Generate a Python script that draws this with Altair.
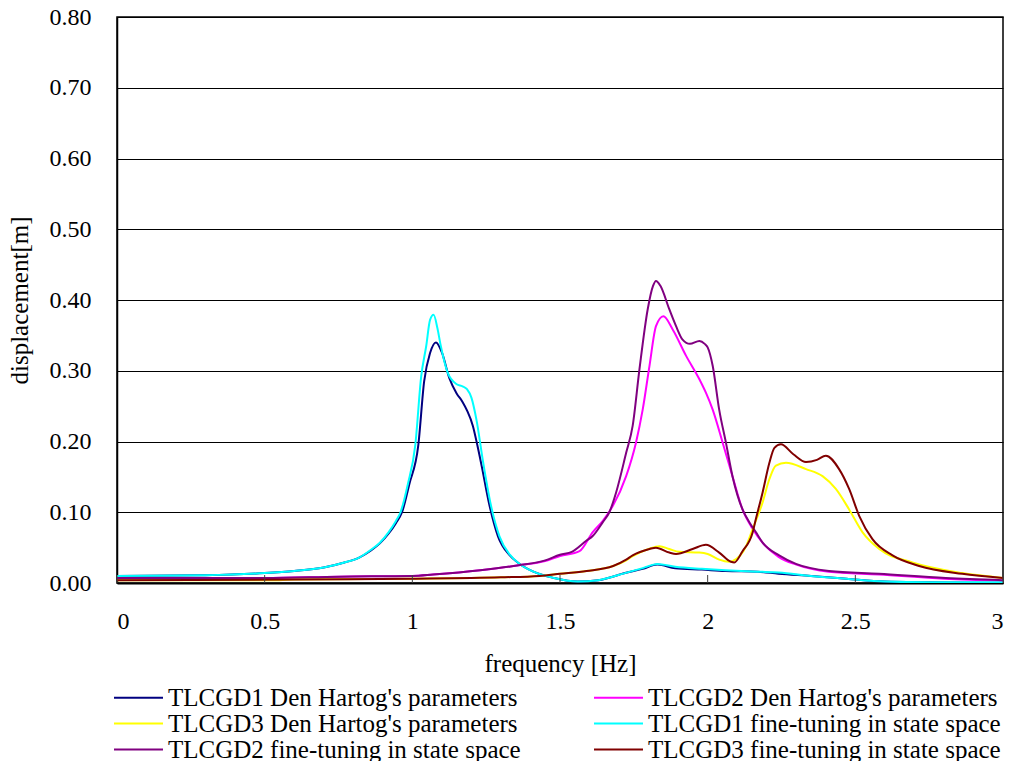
import altair as alt
import pandas as pd

# ---- data ----
names = [
    "TLCGD1 Den Hartog's parameters",
    "TLCGD2 Den Hartog's parameters",
    "TLCGD3 Den Hartog's parameters",
    "TLCGD1 fine-tuning in state space",
    "TLCGD2 fine-tuning in state space",
    "TLCGD3 fine-tuning in state space",
]
colors = ["#000080", "#FF00FF", "#FFFF00", "#00FFFF", "#800080", "#800000"]
# legend fills column by column: this order gives the reference's row layout
legend_order = [0, 2, 4, 1, 3, 5]

f_d1 = [0.00, 0.30, 0.50, 0.60, 0.70, 0.77, 0.82, 0.86, 0.89, 0.92, 0.945, 0.965, 0.99, 1.02, 1.04, 1.06,
        1.08, 1.10, 1.125, 1.15, 1.17, 1.185, 1.205, 1.22, 1.235, 1.26, 1.29, 1.33, 1.36, 1.41, 1.48, 1.56,
        1.63, 1.72, 1.78, 1.83, 1.89, 1.98, 2.06, 2.17, 2.24, 2.35, 2.47, 2.60, 2.75, 3.00]
v_d1 = [0.010, 0.011, 0.014, 0.017, 0.022, 0.029, 0.036, 0.046, 0.056, 0.070, 0.085, 0.100, 0.140, 0.194,
        0.285, 0.325, 0.340, 0.326, 0.290, 0.268, 0.256, 0.244, 0.222, 0.195, 0.165, 0.112, 0.066, 0.039,
        0.028, 0.016, 0.007, 0.002, 0.004, 0.014, 0.020, 0.026, 0.021, 0.019, 0.017, 0.016, 0.013, 0.010,
        0.006, 0.002, 0.001, 0.000]

f_d2 = [0.00, 0.50, 0.75, 1.00, 1.07, 1.23, 1.36, 1.45, 1.50, 1.566, 1.611, 1.645, 1.679, 1.724, 1.757,
        1.780, 1.803, 1.825, 1.850, 1.882, 1.927, 1.972, 1.994, 2.017, 2.051, 2.084, 2.118, 2.15, 2.19,
        2.24, 2.30, 2.41, 2.58, 2.80, 3.00]
v_d2 = [0.007, 0.007, 0.009, 0.010, 0.012, 0.018, 0.025, 0.031, 0.038, 0.045, 0.072, 0.088, 0.109, 0.151,
        0.198, 0.245, 0.307, 0.363, 0.377, 0.358, 0.321, 0.288, 0.269, 0.245, 0.198, 0.151, 0.104, 0.078,
        0.055, 0.037, 0.026, 0.016, 0.012, 0.006, 0.003]

f_d3 = [0.00, 0.55, 0.60, 1.00, 1.30, 1.43, 1.50, 1.59, 1.68, 1.724, 1.746, 1.80, 1.837, 1.87, 1.904,
        1.972, 2.00, 2.039, 2.073, 2.084, 2.130, 2.152, 2.186, 2.209, 2.231, 2.265, 2.333, 2.389, 2.434,
        2.479, 2.524, 2.581, 2.693, 2.862, 3.00]
v_d3 = [0.004, 0.004, 0.005, 0.006, 0.008, 0.010, 0.013, 0.017, 0.024, 0.032, 0.038, 0.048, 0.052, 0.048,
        0.044, 0.043, 0.041, 0.033, 0.030, 0.031, 0.052, 0.076, 0.114, 0.147, 0.166, 0.170, 0.161, 0.151,
        0.133, 0.104, 0.072, 0.048, 0.029, 0.014, 0.007]

f_f1 = [0.00, 0.30, 0.50, 0.60, 0.70, 0.77, 0.82, 0.86, 0.89, 0.92, 0.945, 0.96, 0.985, 1.01, 1.03, 1.047,
        1.06, 1.072, 1.085, 1.095, 1.12, 1.15, 1.17, 1.185, 1.20, 1.217, 1.24, 1.265, 1.295, 1.33, 1.36,
        1.41, 1.48, 1.56, 1.63, 1.72, 1.78, 1.83, 1.89, 1.98, 2.06, 2.17, 2.24, 2.35, 2.47, 2.60, 2.75, 3.00]
v_f1 = [0.010, 0.011, 0.014, 0.017, 0.022, 0.029, 0.036, 0.047, 0.057, 0.072, 0.088, 0.100, 0.140, 0.195,
        0.292, 0.335, 0.372, 0.379, 0.360, 0.338, 0.297, 0.281, 0.278, 0.274, 0.262, 0.231, 0.170, 0.112,
        0.066, 0.040, 0.028, 0.016, 0.007, 0.002, 0.004, 0.014, 0.021, 0.027, 0.023, 0.020, 0.018, 0.016,
        0.015, 0.010, 0.006, 0.002, 0.001, 0.001]

f_f2 = [0.00, 0.50, 0.75, 1.00, 1.07, 1.23, 1.36, 1.45, 1.50, 1.54, 1.59, 1.61, 1.645, 1.667, 1.69, 1.724,
        1.746, 1.769, 1.797, 1.815, 1.825, 1.84, 1.87, 1.893, 1.915, 1.94, 1.972, 1.99, 2.00, 2.017, 2.039,
        2.062, 2.084, 2.118, 2.141, 2.163, 2.186, 2.242, 2.299, 2.411, 2.58, 2.806, 3.00]
v_f2 = [0.007, 0.007, 0.009, 0.010, 0.012, 0.018, 0.025, 0.032, 0.040, 0.044, 0.060, 0.066, 0.086, 0.100,
        0.128, 0.184, 0.222, 0.302, 0.387, 0.420, 0.427, 0.420, 0.387, 0.363, 0.344, 0.338, 0.342, 0.338,
        0.333, 0.307, 0.245, 0.198, 0.151, 0.104, 0.086, 0.072, 0.057, 0.039, 0.027, 0.017, 0.013, 0.007,
        0.004]

f_f3 = [0.00, 0.60, 1.00, 1.30, 1.43, 1.50, 1.59, 1.68, 1.724, 1.746, 1.803, 1.825, 1.870, 1.893, 1.949,
        1.994, 2.039, 2.079, 2.09, 2.118, 2.152, 2.163, 2.186, 2.209, 2.226, 2.248, 2.29, 2.333, 2.37, 2.40,
        2.445, 2.479, 2.513, 2.558, 2.626, 2.716, 2.862, 3.00]
v_f3 = [0.004, 0.005, 0.006, 0.008, 0.010, 0.013, 0.017, 0.024, 0.033, 0.039, 0.048, 0.050, 0.043, 0.041,
        0.048, 0.054, 0.043, 0.030, 0.029, 0.045, 0.071, 0.090, 0.128, 0.170, 0.191, 0.196, 0.182, 0.171,
        0.174, 0.180, 0.161, 0.133, 0.095, 0.062, 0.039, 0.024, 0.013, 0.007]

x_ticks = [0, 0.5, 1, 1.5, 2, 2.5, 3]
y_ticks = [0.0, 0.1, 0.2, 0.3, 0.4, 0.5, 0.6, 0.7, 0.8]

series = [(f_d1, v_d1), (f_d2, v_d2), (f_d3, v_d3), (f_f1, v_f1), (f_f2, v_f2), (f_f3, v_f3)]
rows = []
for idx, (name, (fs, vs)) in enumerate(zip(names, series)):
    for i, (f, v) in enumerate(zip(fs, vs)):
        rows.append({"series": name, "i": i, "freq": f, "disp": v})
df = pd.DataFrame(rows)

dom = [names[k] for k in legend_order]
rng = [colors[k] for k in legend_order]

FONT = "Liberation Serif"

xscale = alt.Scale(domain=[0, 3], nice=False, zero=False)
yscale = alt.Scale(domain=[0, 0.8], nice=False)

lines = alt.Chart(df).mark_line(strokeWidth=2, clip=True, interpolate="monotone").encode(
    x=alt.X("freq:Q", scale=xscale,
            axis=alt.Axis(values=x_ticks, format="~g", title="frequency [Hz]",
                          labelFont=FONT, labelFontSize=24, labelColor="black",
                          labelPadding=26, ticks=False, grid=False,
                          domainColor="black", domainWidth=2,
                          titleFont=FONT, titleFontSize=25, titleFontWeight="normal",
                          titleColor="black", titleY=80, titleBaseline="middle")),
    y=alt.Y("disp:Q", scale=yscale,
            axis=alt.Axis(values=y_ticks, format=".2f", title="displacement[m]",
                          labelFont=FONT, labelFontSize=24, labelColor="black",
                          labelPadding=26, ticks=False, grid=True,
                          gridColor="black", gridWidth=1, gridOpacity=1,
                          domainColor="black", domainWidth=1.5,
                          titleFont=FONT, titleFontSize=25, titleFontWeight="normal",
                          titleColor="black", titleX=-98, titleY=283, titleBaseline="middle")),
    color=alt.Color("series:N",
                    scale=alt.Scale(domain=dom, range=rng),
                    legend=alt.Legend(title=None, orient="none", legendX=9, legendY=668,
                                      columns=2, columnPadding=69, rowPadding=0,
                                      labelFont=FONT, labelFontSize=25, labelColor="black",
                                      labelLimit=600, labelOffset=17,
                                      symbolType="M-4,0H4", symbolSize=150,
                                      symbolStrokeWidth=2, padding=0)),
    order=alt.Order("i:Q"),
    detail="series:N",
)

tick_df = pd.DataFrame({"t": x_ticks})
ticks = alt.Chart(tick_df).mark_rule(color="#404040", strokeWidth=1).encode(
    x=alt.X("t:Q", scale=xscale),
    y=alt.value(558),
    y2=alt.value(566),
)

chart = alt.layer(lines, ticks).properties(
    width=886, height=566,
    autosize=alt.AutoSizeParams(type="none"),
    padding={"left": 117, "top": 17, "right": 12, "bottom": 178},
    background="white",
).configure_view(stroke="black", strokeWidth=1.5)

chart.save("out.html", embed_options={"renderer": "svg", "actions": False})
